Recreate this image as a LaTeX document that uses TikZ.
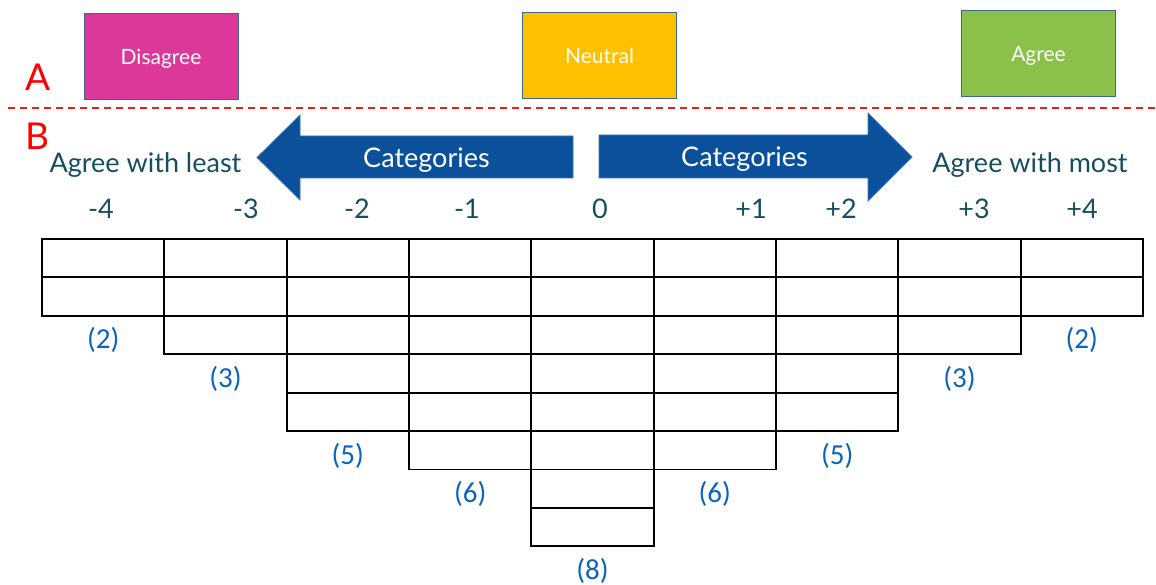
\documentclass[tikz,border=0pt]{standalone}
\usepackage{fontspec}
\setmainfont{Lato}
\newfontfamily\calib{Carlito}
\definecolor{tealtxt}{RGB}{22,78,96}
\definecolor{arrowblue}{RGB}{11,80,155}
\definecolor{parblue}{RGB}{10,100,190}
\definecolor{boxedge}{RGB}{65,100,150}
\definecolor{magentafill}{RGB}{220,56,154}
\definecolor{neutralfill}{RGB}{255,192,0}
\definecolor{agreefill}{RGB}{139,193,74}
\definecolor{redline}{RGB}{235,30,30}
\begin{document}
\begin{tikzpicture}[x=1pt,y=-1pt,
  lbl/.style={font=\fontsize{27}{32}\selectfont, text=tealtxt, anchor=base, inner sep=0pt},
  numlbl/.style={font=\fontsize{27}{32}\selectfont, text=tealtxt, anchor=base, inner sep=0pt},
  cnt/.style={font=\calib\fontsize{29}{32}\selectfont, text=parblue, inner sep=0pt},
  topbox/.style={draw=boxedge, line width=1pt, minimum width=154pt, minimum height=86pt, inner sep=0pt, text=white, text height=15pt, text depth=0pt, font=\fontsize{21}{24}\selectfont},
  sect/.style={font=\fontsize{37}{40}\selectfont, text=red, anchor=base, inner sep=0pt},
  arr/.style={fill=arrowblue, draw=arrowblue!80!white, line width=0.8pt},
  arrtxt/.style={font=\fontsize{27}{32}\selectfont, text=white, anchor=base, inner sep=0pt},
  cell/.style={draw=black, line width=1.8pt},
  sep/.style={draw=redline, line width=1.6pt, dash pattern=on 7pt off 5pt}
]
\useasboundingbox (0,0) rectangle (1156,585);

% top boxes
\node[topbox, fill=magentafill] (disagree) at (161,57) {Disagree};
\node[topbox, fill=neutralfill] (neutral) at (599.5,56) {Neutral};
\node[topbox, fill=agreefill] (agree) at (1038.5,54) {Agree};

% section labels and separator
\node[sect] (A) at (38.5,91) {A};
\node[sect] (B) at (37,150) {B};
\coordinate (sepL) at (8,108);
\coordinate (sepR) at (1156,108);
\draw[sep] (sepL) -- (sepR);

% arrows
\path[arr] (573,136) -- (300,136) -- (300,115) -- (257,157.5) -- (300,200) -- (300,178) -- (573,178) -- cycle;
\path[arr] (599,135) -- (868,135) -- (868,113) -- (912,157) -- (868,201) -- (868,178) -- (599,178) -- cycle;
\node[arrtxt] (catL) at (426.5,168) {Categories};
\node[arrtxt] (catR) at (744.5,167) {Categories};

% end labels
\node[lbl] (least) at (145.5,173) {Agree with least};
\node[lbl] (most) at (1030,173) {Agree with most};

% column numbers
\foreach \x/\t [count=\i] in {101/-4,246/-3,357/-2,467/-1,600/0,751/+1,841/+2,974/+3,1082/+4}
  \node[numlbl] (num\i) at (\x,219) {\t};

% grid
\def\gx{42}
\def\cw{122.33}
\def\rh{38.4}
\def\gy{239}
\foreach \n [count=\c from 0] in {2,3,5,6,8,6,5,3,2} {
  \foreach \r in {1,...,\n} {
    \draw[cell] ({\gx+\c*\cw},{\gy+(\r-1)*\rh}) rectangle ({\gx+(\c+1)*\cw},{\gy+\r*\rh});
  }
  \node[cnt] (cnt\c) at ({\gx+(\c+0.5)*\cw},{\gy+\n*\rh+24.5}) {(\n)};
}
\end{tikzpicture}
\end{document}
